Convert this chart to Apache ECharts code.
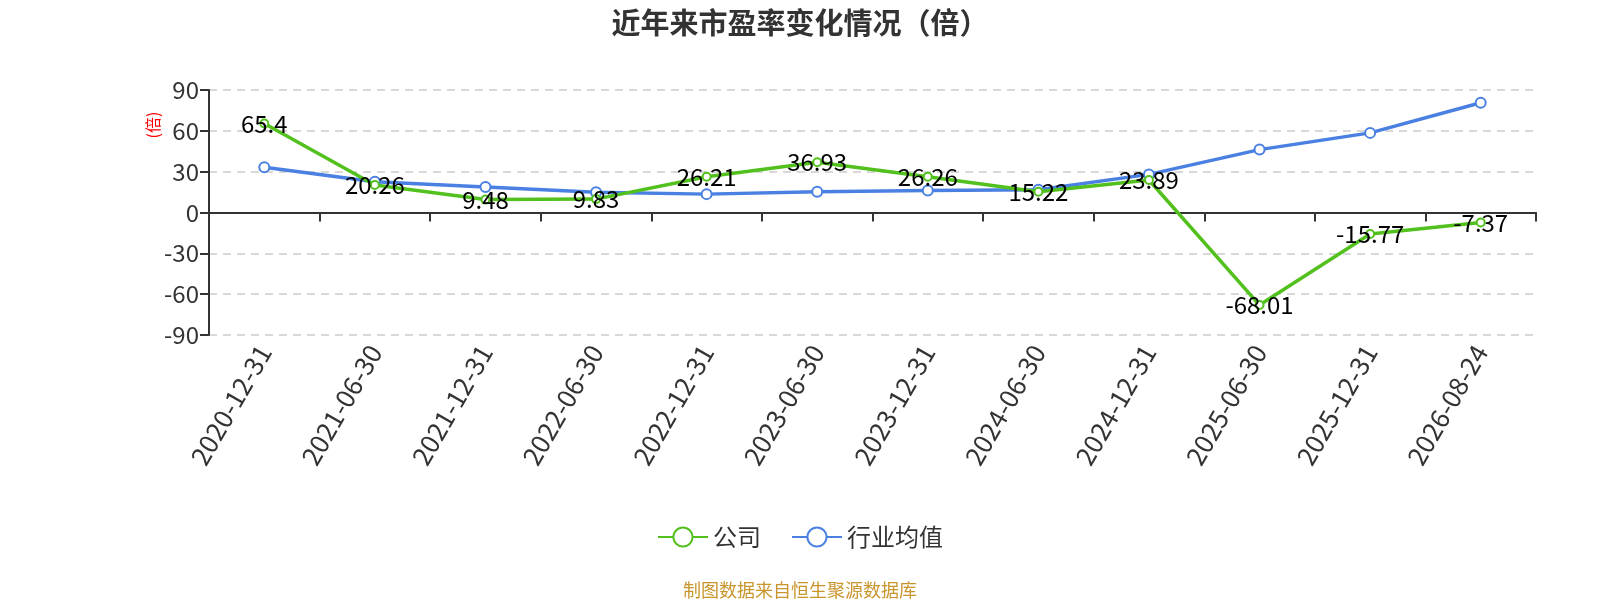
<!DOCTYPE html>
<html>
<head>
<meta charset="utf-8">
<script src="https://cdn.jsdelivr.net/npm/echarts@6/dist/echarts.min.js"></script>
<style>
  html, body { margin: 0; padding: 0; background: #fff; }
  #chart { width: 1600px; height: 600px; }
</style>
</head>
<body>
<div id="chart"></div>
<script>
  var categories = ['2020-12-31', '2021-06-30', '2021-12-31', '2022-06-30', '2022-12-31', '2023-06-30',
    '2023-12-31', '2024-06-30', '2024-12-31', '2025-06-30', '2025-12-31', '2026-08-24'];
  var companyPE = [65.4, 20.26, 9.48, 9.83, 26.21, 36.93, 26.26, 15.22, 23.89, -68.01, -15.77, -7.37];
  var industryPE = [33.2, 22.6, 18.7, 14.8, 13.5, 15.2, 16.2, 16.7, 28.0, 46.2, 58.5, 80.6];
  var yTicks = { min: -90, max: 90, interval: 30 };

  var font = '"Noto Sans CJK SC", "Noto Sans", sans-serif';

  var option = {
    textStyle: { fontFamily: font },
    title: [{
      text: '近年来市盈率变化情况（倍）',
      left: 'center',
      top: 3,
      textStyle: { fontSize: 29, fontWeight: 'bold', color: '#333', fontFamily: font }
    }, {
      text: '制图数据来自恒生聚源数据库',
      left: 'center',
      bottom: 1,
      padding: 0,
      textStyle: { fontSize: 18, fontWeight: 'normal', color: '#c9952d', fontFamily: font }
    }],
    legend: {
      bottom: 46,
      left: 'center',
      itemWidth: 50,
      itemHeight: 24,
      itemGap: 30,
      textStyle: { fontSize: 24, color: '#333' },
      data: ['公司', '行业均值']
    },
    grid: { left: 209, right: 64, top: 90, bottom: 265, containLabel: false },
    graphic: [{
      type: 'text',
      x: 153,
      y: 125,
      rotation: Math.PI / 2,
      style: { text: '(倍)', fill: '#ff0000', fontSize: 16, align: 'center', verticalAlign: 'middle', fontFamily: font }
    }],
    xAxis: [{
      type: 'category',
      data: categories,
      boundaryGap: true,
      axisLine: { onZero: true, lineStyle: { color: '#333', width: 2 } },
      axisTick: { show: true, length: 9, lineStyle: { color: '#333', width: 2 } },
      axisLabel: { show: false }
    }, {
      type: 'category',
      data: categories,
      position: 'bottom',
      boundaryGap: true,
      axisLine: { show: false, onZero: false },
      axisTick: { show: false },
      axisLabel: { rotate: 60, fontSize: 26, color: '#333', margin: 12, interval: 0 }
    }],
    yAxis: {
      type: 'value',
      min: yTicks.min,
      max: yTicks.max,
      interval: yTicks.interval,
      axisLine: { show: true, lineStyle: { color: '#333', width: 2 } },
      axisTick: { show: true, length: 9, lineStyle: { color: '#333', width: 2 } },
      axisLabel: { fontSize: 24, color: '#333', margin: 10 },
      splitLine: { show: true, lineStyle: { type: [8, 6], color: '#ccc', width: 1.5 } }
    },
    series: [{
      name: '公司',
      type: 'line',
      xAxisIndex: 0,
      data: companyPE,
      symbol: 'emptyCircle',
      symbolSize: 8,
      itemStyle: { color: '#52c11e' },
      lineStyle: { color: '#52c11e', width: 3.5 },
      label: {
        show: true,
        position: 'inside',
        fontSize: 24,
        color: '#000',
        fontFamily: font
      },
      z: 3
    }, {
      name: '行业均值',
      type: 'line',
      xAxisIndex: 0,
      data: industryPE,
      symbol: 'emptyCircle',
      symbolSize: 10,
      itemStyle: { color: '#4a80e2' },
      lineStyle: { color: '#4a80e2', width: 3.5 },
      z: 2
    }]
  };

  echarts.init(document.getElementById('chart')).setOption(option);
</script>
</body>
</html>
